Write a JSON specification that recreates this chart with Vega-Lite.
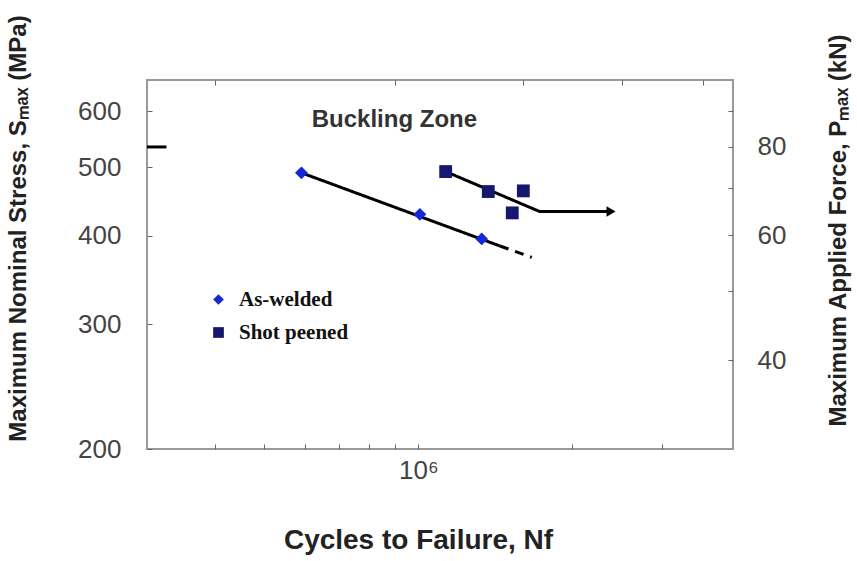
{
  "$schema": "https://vega.github.io/schema/vega-lite/v6.json",
  "width": 586,
  "height": 369,
  "autosize": {"type": "none"},
  "padding": {"left": 147, "top": 80, "right": 124, "bottom": 112},
  "background": "white",
  "datasets": {
    "points": [
      {"series": "As-welded", "N": 591000, "S": 491},
      {"series": "As-welded", "N": 1007000, "S": 429},
      {"series": "As-welded", "N": 1330000, "S": 396},
      {"series": "Shot peened", "N": 1131000, "S": 493},
      {"series": "Shot peened", "N": 1370000, "S": 462},
      {"series": "Shot peened", "N": 1604000, "S": 463},
      {"series": "Shot peened", "N": 1526000, "S": 431}
    ],
    "fits": [
      {"curve": "As-welded fit", "part": "fit", "N": 591000, "S": 491},
      {"curve": "As-welded fit", "part": "fit", "N": 1444000, "S": 387},
      {"curve": "As-welded extrapolation", "part": "extrapolation", "N": 1444000, "S": 387},
      {"curve": "As-welded extrapolation", "part": "extrapolation", "N": 1666000, "S": 373},
      {"curve": "Shot peened fit", "part": "fit", "N": 1131000, "S": 493},
      {"curve": "Shot peened fit", "part": "fit", "N": 1725000, "S": 433},
      {"curve": "Shot peened fit", "part": "fit", "N": 2380000, "S": 433}
    ],
    "runout": [{"N": 2380000, "S": 433}],
    "zone": [{"label": "Buckling Zone", "N": 898000, "S": 583}],
    "buckling": [{"P": 80, "N0": 295000, "N1": 322000}]
  },
  "layer": [
    {
      "data": {"name": "fits"},
      "mark": {"type": "line", "color": "black", "strokeWidth": 3},
      "encoding": {
        "x": {"field": "N", "type": "quantitative",
          "scale": {"type": "log", "domain": [295000, 4120000], "nice": false},
          "axis": {"orient": "bottom", "title": "Cycles to Failure, Nf",
            "values": [400000, 500000, 600000, 700000, 800000, 900000, 1000000, 2000000, 3000000],
            "labelExpr": "datum.value == 1000000 ? '10⁶' : ''",
            "labelPadding": 13, "titleX": 271, "titleY": 91, "titleBaseline": "middle", "titleFontSize": 28}},
        "y": {"field": "S", "type": "quantitative",
          "scale": {"type": "log", "domain": [200, 664], "nice": false, "zero": false},
          "axis": {"orient": "left", "title": "Maximum Nominal Stress, Sₘₐₓ (MPa)",
            "values": [200, 300, 400, 500, 600], "labelPadding": 31,
            "titleX": -129, "titleY": 148, "titleBaseline": "middle", "titleFontSize": 24}},
        "detail": {"field": "curve"},
        "strokeDash": {"field": "part", "type": "nominal",
          "scale": {"domain": ["fit", "extrapolation"], "range": [[1, 0], [9, 7]]}, "legend": null}
      }
    },
    {
      "data": {"name": "runout"},
      "mark": {"type": "point", "shape": "triangle-right", "filled": true, "color": "black", "size": 110, "opacity": 1},
      "encoding": {
        "x": {"field": "N", "type": "quantitative", "scale": {"type": "log", "domain": [295000, 4120000], "nice": false}, "axis": null},
        "y": {"field": "S", "type": "quantitative", "scale": {"type": "log", "domain": [200, 664], "nice": false, "zero": false}, "axis": null}
      }
    },
    {
      "data": {"name": "points"},
      "mark": {"type": "point", "filled": true, "opacity": 1, "size": 165},
      "encoding": {
        "x": {"field": "N", "type": "quantitative", "scale": {"type": "log", "domain": [295000, 4120000], "nice": false}, "axis": null},
        "y": {"field": "S", "type": "quantitative", "scale": {"type": "log", "domain": [200, 664], "nice": false, "zero": false}, "axis": null},
        "shape": {"field": "series", "type": "nominal",
          "scale": {"domain": ["As-welded", "Shot peened"], "range": ["diamond", "square"]},
          "legend": {"orient": "none", "legendX": 61, "legendY": 209, "padding": 0, "title": null,
            "labelFont": "Liberation Serif", "labelFontWeight": "bold", "labelFontSize": 21, "labelColor": "#111",
            "symbolSize": 115, "symbolStrokeWidth": 0, "labelOffset": 10, "rowPadding": 11}},
        "color": {"field": "series", "type": "nominal",
          "scale": {"domain": ["As-welded", "Shot peened"], "range": ["#1428d8", "#15186e"]},
          "legend": {"orient": "none", "legendX": 61, "legendY": 209, "padding": 0, "title": null,
            "labelFont": "Liberation Serif", "labelFontWeight": "bold", "labelFontSize": 21, "labelColor": "#111",
            "symbolSize": 115, "symbolStrokeWidth": 0, "labelOffset": 10, "rowPadding": 11}}
      }
    },
    {
      "data": {"name": "zone"},
      "mark": {"type": "text", "font": "Liberation Sans", "fontWeight": "bold", "fontSize": 24, "color": "#333", "align": "center", "baseline": "middle"},
      "encoding": {
        "x": {"field": "N", "type": "quantitative", "scale": {"type": "log", "domain": [295000, 4120000], "nice": false}, "axis": null},
        "y": {"field": "S", "type": "quantitative", "scale": {"type": "log", "domain": [200, 664], "nice": false, "zero": false}, "axis": null},
        "text": {"field": "label"}
      }
    },
    {
      "data": {"name": "buckling"},
      "mark": {"type": "rule", "color": "black", "strokeWidth": 3},
      "encoding": {
        "x": {"field": "N0", "type": "quantitative",
          "scale": {"type": "log", "domain": [295000, 4120000], "nice": false},
          "axis": {"orient": "top", "title": null, "labels": false,
            "values": [400000, 900000, 1600000, 2500000, 3600000]}},
        "x2": {"field": "N1"},
        "y": {"field": "P", "type": "quantitative",
          "scale": {"type": "log", "domain": [29.96, 99.46], "nice": false, "zero": false},
          "axis": {"orient": "right", "title": "Maximum Applied Force, Pₘₐₓ (kN)",
            "values": [40, 50, 60, 70, 80, 90],
            "labelExpr": "datum.value % 20 == 0 ? datum.label : ''",
            "labelPadding": 29, "titleAngle": 270, "titleX": 105, "titleY": 150,
            "titleBaseline": "middle", "titleFontSize": 24}}
      }
    }
  ],
  "resolve": {"scale": {"y": "independent"}, "axis": {"x": "independent"}},
  "config": {
    "view": {"stroke": "#999", "strokeWidth": 2},
    "axis": {
      "domain": false, "grid": false, "ticks": true, "tickColor": "#666", "tickSize": -5, "tickWidth": 1,
      "labelColor": "#444", "labelFont": "Liberation Sans", "labelFontSize": 26,
      "titleFont": "Liberation Sans", "titleFontWeight": "bold", "titleColor": "#222"
    }
  }
}
